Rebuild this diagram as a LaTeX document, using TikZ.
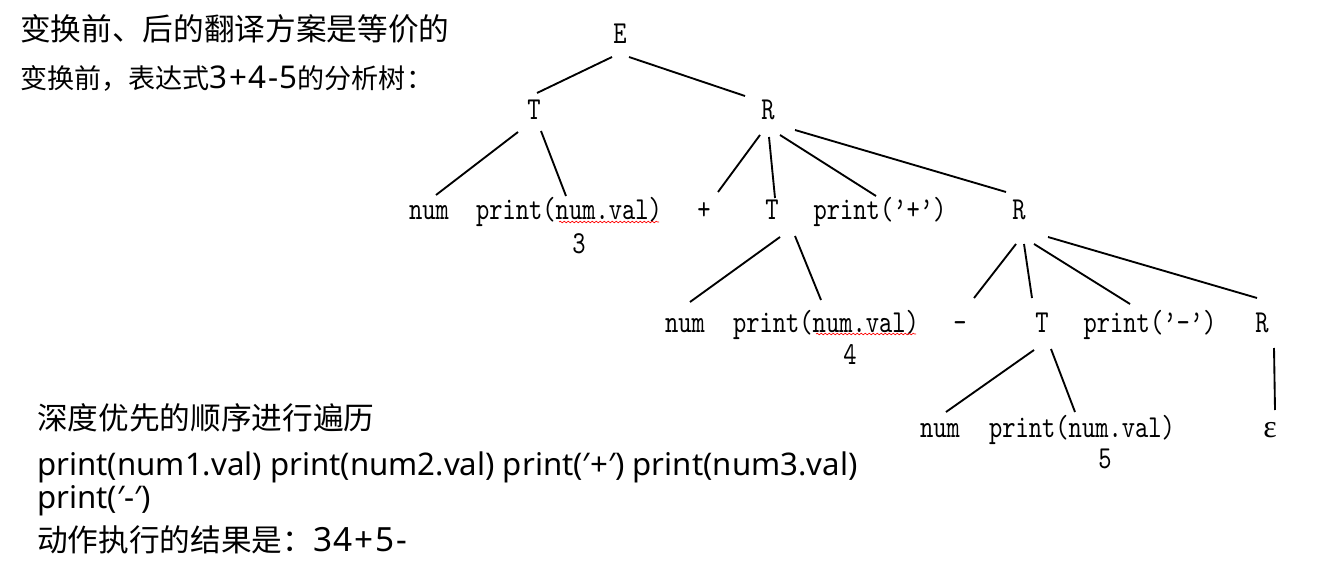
\documentclass[tikz,border=0pt]{standalone}
\usepackage{fontspec}
\setmainfont{Noto Sans CJK SC}
\newfontfamily\cjk{Noto Sans CJK SC}
\newfontfamily\latinfont{Noto Sans}
\newfontfamily\latinwide[LetterSpace=5]{Noto Sans}
\newfontfamily\greekfont{Liberation Serif}
\newfontfamily\treefont[FakeStretch=0.79]{lmmono10-regular.otf}
\usetikzlibrary{calc,decorations.pathmorphing}
\begin{document}
\begin{tikzpicture}[x=0.75pt,y=-0.75pt,
  lbl/.style={inner sep=0pt, font=\treefont\fontsize{24}{24}\selectfont, text height=13.5pt, text depth=0pt},
  edge/.style={line width=1.4pt},
  wavy/.style={red, line width=0.5pt, decorate, decoration={snake, amplitude=0.6pt, segment length=3pt}},
  cjkbig/.style={inner sep=0pt, anchor=west, font=\cjk\fontsize{23}{23}\selectfont},
  cjksmall/.style={inner sep=0pt, anchor=west, font=\cjk\fontsize{20.3}{20.3}\selectfont},
  latinline/.style={inner sep=0pt, anchor=base west, font=\latinfont\fontsize{23.4}{23.4}\selectfont}]
\useasboundingbox (0,0) rectangle (1337,566);

% left texts
\node[cjkbig] (title) at (20,29) {变换前、后的翻译方案是等价的};
\node[cjksmall] (sub) at (20,78) {变换前，表达式{\latinwide\fontsize{23.5}{23.5}\selectfont 3+4-5}的分析树：};
\node[cjkbig] (dfs) at (37,418) {深度优先的顺序进行遍历};
\node[latinline] (seq1) at (37,475) {print(num1.val) print(num2.val) print(′+′) print(num3.val)};
\node[latinline] (seq2) at (37,508) {print(′-′)};
\node[cjkbig] (res) at (37,540) {动作执行的结果是：{\latinwide\fontsize{25}{25}\selectfont 34+5-}};

% tree nodes
\node[lbl] (E) at (620,35) {E};
\node[lbl] (T1) at (534,111) {T};
\node[lbl] (R1) at (768,111) {R};
\node[lbl] (n1) at (429,211) {num};
\node[lbl] (p1) at (569,211) {print(num.val)};
\node[lbl] (v1) at (579,245) {3};
\node[lbl] (plus) at (704,211) {+};
\node[lbl] (T2) at (772,211) {T};
\node[lbl] (pp) at (880,211) {print(’+’)};
\node[lbl] (R2) at (1019,211) {R};
\node[lbl] (n2) at (685,323) {num};
\node[lbl] (p2) at (826,323) {print(num.val)};
\node[lbl] (v2) at (850,355) {4};
\node[lbl] (minus) at (960,323) {–};
\node[lbl] (T3) at (1042,323) {T};
\node[lbl] (pm) at (1150,323) {print(’–’)};
\node[lbl] (R3) at (1262,323) {R};
\node[lbl] (n3) at (940,428) {num};
\node[lbl] (p3) at (1082,428) {print(num.val)};
\node[lbl] (v3) at (1105,459) {5};
\node[lbl, font=\greekfont\fontsize{24}{24}\selectfont] (eps) at (1270,428) {ε};

% spell-check underlines
\draw[wavy] ($(p1)+(-10,11)$) -- ($(p1)+(90,11)$);
\draw[wavy] ($(p2)+(-10,11)$) -- ($(p2)+(90,11)$);

% edges
\draw[edge] ($(E)+(-8,22)$) -- ($(T1)+(3,-18)$);
\draw[edge] ($(E)+(9,22)$) -- ($(R1)+(-23,-15)$);
\draw[edge] ($(T1)+(-16,21)$) -- ($(n1)+(7,-16)$);
\draw[edge] ($(T1)+(7,20)$) -- ($(p1)+(-3,-15)$);
\draw[edge] ($(R1)+(-8,24)$) -- ($(plus)+(14,-19)$);
\draw[edge] ($(R1)+(1,26)$) -- ($(T2)+(3,-13)$);
\draw[edge] ($(R1)+(12,24)$) -- ($(pp)+(-4,-15)$);
\draw[edge] ($(R1)+(27,19)$) -- ($(R2)+(-13,-19)$);
\draw[edge] ($(T2)+(8,26)$) -- ($(n2)+(5,-21)$);
\draw[edge] ($(T2)+(23,25)$) -- ($(p2)+(-5,-23)$);
\draw[edge] ($(R2)+(-3,33)$) -- ($(minus)+(14,-25)$);
\draw[edge] ($(R2)+(5,33)$) -- ($(T3)+(-10,-25)$);
\draw[edge] ($(R2)+(15,33)$) -- ($(pm)+(-20,-19)$);
\draw[edge] ($(R2)+(29,26)$) -- ($(R3)+(-5,-25)$);
\draw[edge] ($(T3)+(-8,27)$) -- ($(n3)+(6,-16)$);
\draw[edge] ($(T3)+(9,26)$) -- ($(p3)+(-7,-16)$);
\draw[edge] ($(R3)+(12,25)$) -- ($(eps)+(5,-18)$);
\end{tikzpicture}
\end{document}
